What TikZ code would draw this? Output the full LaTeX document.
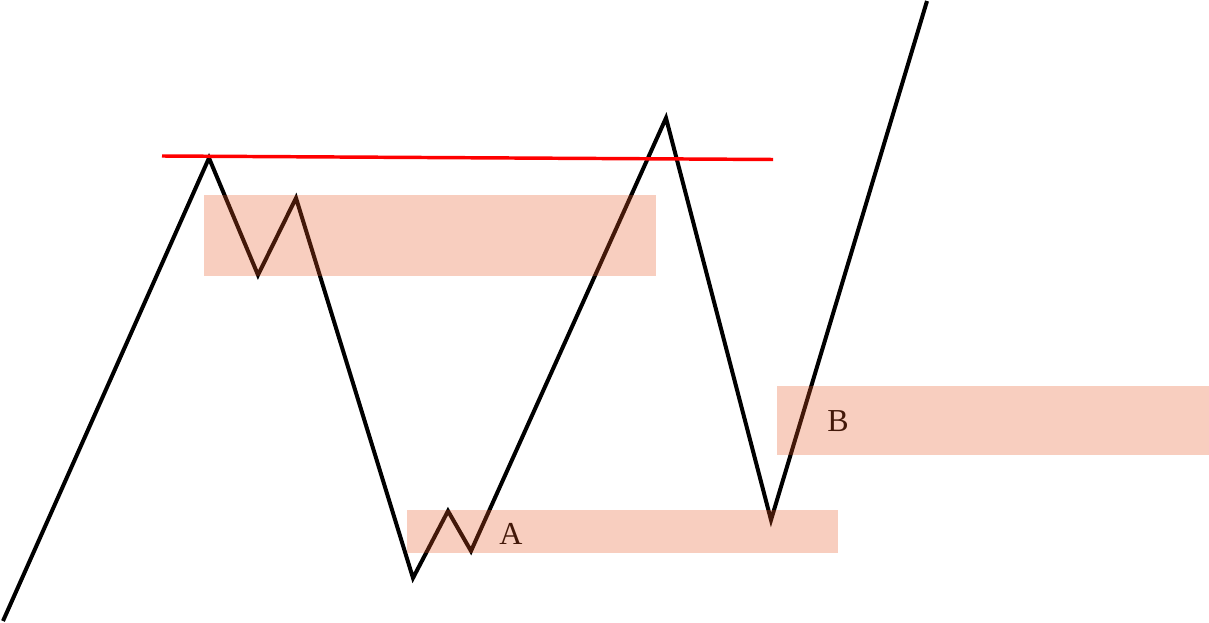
\documentclass[tikz,border=0pt]{standalone}
\usepackage{fontspec}
\setmainfont{Liberation Serif}
\definecolor{zonecol}{RGB}{232,86,33}
\begin{document}
\begin{tikzpicture}[x=0.75pt,y=-0.75pt,
  price/.style={line width=3pt,line join=miter,black},
  level/.style={line width=2.6pt,red},
  zone/.style={fill=zonecol,fill opacity=0.29,draw=none},
  lbl/.style={font=\fontsize{24}{28}\selectfont,inner sep=0pt,text=black}]
\useasboundingbox (0,0) rectangle (1209,623);
% price path points
\coordinate (p0) at (3,621);
\coordinate (p1) at (209,158);
\coordinate (p2) at (258,275);
\coordinate (p3) at (296,198);
\coordinate (p4) at (413,578);
\coordinate (p5) at (448,511);
\coordinate (p6) at (471,551);
\coordinate (p7) at (666,118);
\coordinate (p8) at (771,520);
\coordinate (p9) at (927,1);
\coordinate (r0) at (162,156);
\coordinate (r1) at (773,159.5);
\draw[price] (p0) -- (p1) -- (p2) -- (p3) -- (p4) -- (p5) -- (p6) -- (p7) -- (p8) -- (p9);
\draw[level] (r0) -- (r1);
\node[lbl] (A) at (511,534) {A};
\node[lbl] (B) at (838,421) {B};
\fill[zone] (204,195) rectangle (656,276);
\fill[zone] (407,510) rectangle (838,553);
\fill[zone] (777,386) rectangle (1209,455);
\end{tikzpicture}
\end{document}
